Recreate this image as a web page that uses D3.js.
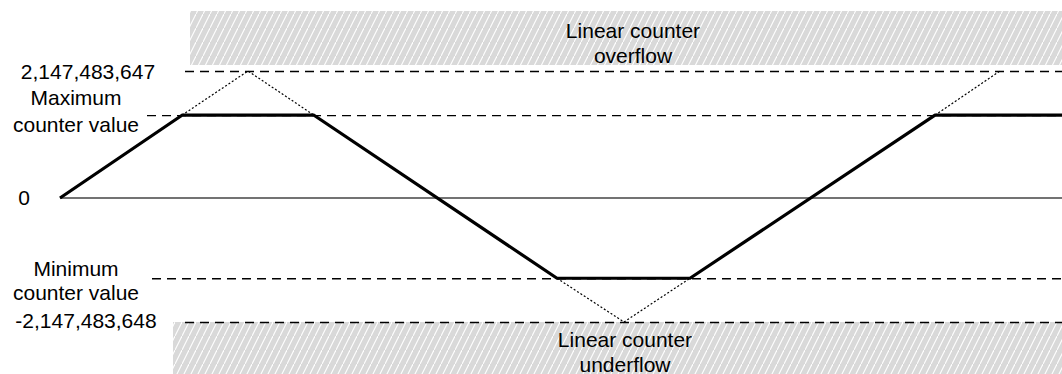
<!DOCTYPE html>
<html>
<head>
<meta charset="utf-8">
<script src="https://cdn.jsdelivr.net/npm/d3@7"></script>
<style>
  body { margin: 0; background: #fff; }
  svg { display: block; }
  text { font-family: "Liberation Sans", Arial, sans-serif; font-size: 21px; fill: #000; }
</style>
</head>
<body>
<svg width="1062" height="374"></svg>
<script>
// counter levels (signed 32-bit limits and the configured min / max)
const limitMax = 2147483647;
const limitMin = -2147483648;
const counterMax = 1400000000;
const counterMin = -1390000000;

// clamped counter value over time
const timeSteps = [0, 12.2, 25.4, 49.7, 63, 87.5, 100.2];
const counterValues = [0, counterMax, counterMax, counterMin, counterMin, counterMax, counterMax];

// what a linear counter would do past the limits (dotted)
const overflowRuns = [
  {t: [12.2, 18.8, 25.4], v: [counterMax, limitMax, counterMax]},
  {t: [49.7, 56.4, 63], v: [counterMin, limitMin, counterMin]},
  {t: [87.5, 94], v: [counterMax, limitMax]}
];

// left-hand labels
const levelLabels = [
  {v: limitMax, lines: ['2,147,483,647'], x: 88, dy: [8]},
  {v: counterMax, lines: ['Maximum', 'counter value'], x: 76, dy: [-10, 17]},
  {v: 0, lines: ['0'], x: 24, dy: [7]},
  {v: counterMin, lines: ['Minimum', 'counter value'], x: 76, dy: [-2, 22]},
  {v: limitMin, lines: ['-2,147,483,648'], x: 86, dy: [6]}
];

// dashed reference lines: value and where they start (in time units)
const dashedLines = [
  {v: limitMax, from: 12.5},
  {v: counterMax, from: 8.7},
  {v: counterMin, from: 9.2},
  {v: limitMin, from: 12.5}
];

let svg = d3.select('svg');
let width = +svg.attr('width');

let x = d3.scaleLinear().domain([0, 100.2]).range([60, 1062]);
let y = d3.scaleLinear().domain([limitMin, 0, limitMax]).range([322, 198, 71]);

// hatch pattern
let defs = svg.append('defs');
let pat = defs.append('pattern')
    .attr('id', 'hatch')
    .attr('patternUnits', 'userSpaceOnUse')
    .attr('width', 7)
    .attr('height', 14);
pat.append('rect').attr('width', 7).attr('height', 14).attr('fill', '#d9d9d9');
pat.append('path')
    .attr('d', 'M-1,16 L8,-2')
    .attr('stroke', '#fff')
    .attr('stroke-width', 1.1);

// overflow / underflow zones
svg.append('rect')
    .attr('x', 190).attr('y', 11)
    .attr('width', width - 190).attr('height', y(limitMax) - 6 - 11)
    .attr('fill', 'url(#hatch)');
svg.append('rect')
    .attr('x', 173).attr('y', y(limitMin))
    .attr('width', width - 173).attr('height', 374 - y(limitMin))
    .attr('fill', 'url(#hatch)');

let zoneText = (cx, lines, baselines) => {
    let t = svg.append('text').attr('text-anchor', 'middle');
    lines.forEach((l, i) => t.append('tspan').attr('x', cx).attr('y', baselines[i]).text(l));
};
zoneText(633, ['Linear counter', 'overflow'], [38, 63]);
zoneText(625, ['Linear counter', 'underflow'], [347, 372]);

// dashed lines
svg.selectAll('line.dash')
    .data(dashedLines)
    .enter()
    .append('line')
    .attr('class', 'dash')
    .attr('x1', d => x(d.from))
    .attr('x2', width)
    .attr('y1', d => y(d.v) + 0.5)
    .attr('y2', d => y(d.v) + 0.5)
    .attr('stroke', '#000')
    .attr('stroke-width', 1.3)
    .attr('stroke-dasharray', '9,6');

// zero line
svg.append('line')
    .attr('x1', x(0)).attr('x2', width)
    .attr('y1', y(0)).attr('y2', y(0))
    .attr('stroke', '#444')
    .attr('stroke-width', 1.5);

// dotted overflow paths
let line = d3.line().x(d => x(d[0])).y(d => y(d[1]));
svg.selectAll('path.over')
    .data(overflowRuns)
    .enter()
    .append('path')
    .attr('class', 'over')
    .attr('d', d => line(d3.zip(d.t, d.v)))
    .attr('fill', 'none')
    .attr('stroke', '#000')
    .attr('stroke-width', 1.2)
    .attr('stroke-dasharray', '2,2');

// counter value
svg.append('path')
    .attr('d', line(d3.zip(timeSteps, counterValues)))
    .attr('fill', 'none')
    .attr('stroke', '#000')
    .attr('stroke-width', 3.2)
    .attr('stroke-linejoin', 'round');

// labels
levelLabels.forEach(d => {
    let t = svg.append('text').attr('text-anchor', 'middle');
    d.lines.forEach((l, i) => t.append('tspan')
        .attr('x', d.x)
        .attr('y', y(d.v) + d.dy[i])
        .text(l));
});
</script>
</body>
</html>
